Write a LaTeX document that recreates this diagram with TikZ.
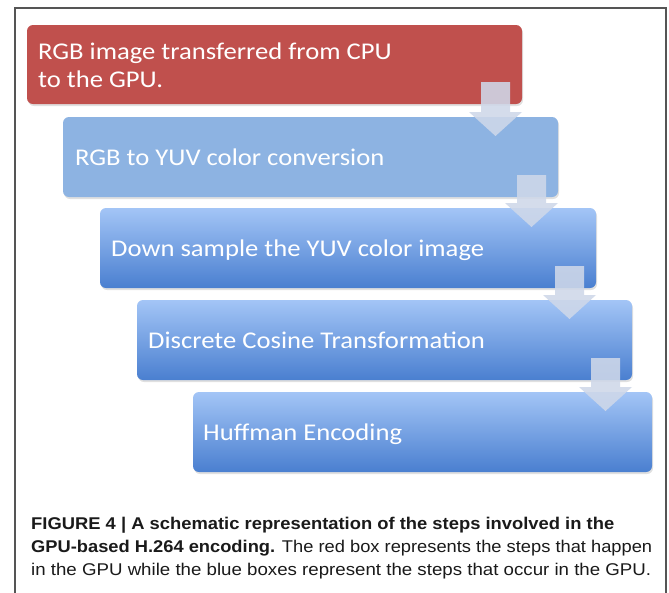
\documentclass[tikz,border=0pt]{standalone}
\usepackage{fontspec}
\setmainfont{Carlito}
\newfontfamily\capfont{Liberation Sans}
\usepackage{graphicx}
\usetikzlibrary{calc}
\definecolor{redbox}{HTML}{C0504D}
\definecolor{flatblue}{HTML}{8DB3E2}
\definecolor{gradtop}{HTML}{A3C5F6}
\definecolor{gradbot}{HTML}{4A7FD0}
\definecolor{arrowfill}{HTML}{CFD8E9}
\definecolor{framecol}{HTML}{555555}
\definecolor{captext}{HTML}{1A1A1A}
\newcommand{\boxtext}[1]{\scalebox{1.11}[1]{#1}}
\newcommand{\capline}[2]{\resizebox{#1}{\height}{#2}}
\newcommand{\blockarrow}[2]{%
  \fill[arrowfill,opacity=0.88] let \p1=(#1.south east), \p2=(#2.north) in
    (\x1-41pt,\y1+22pt) -- (\x1-12pt,\y1+22pt) -- (\x1-12pt,\y2+5pt) --
    (\x1,\y2+5pt) -- (\x1-26.5pt,\y2-19pt) -- (\x1-53pt,\y2+5pt) --
    (\x1-41pt,\y2+5pt) -- cycle;}
\begin{document}
\begin{tikzpicture}[x=1pt,y=-1pt,
  stepbox/.style={rounded corners=6pt,inner sep=0pt,outer sep=0pt,anchor=north west,minimum height=80pt},
  redstep/.style={stepbox,fill=redbox},
  flatstep/.style={stepbox,fill=flatblue},
  gradstep/.style={stepbox,top color=gradtop,bottom color=gradbot},
  shadowbox/.style={rounded corners=6pt,fill=black,opacity=0.12},
  steptext/.style={anchor=base west,inner sep=0pt,text=white,font=\fontsize{24}{28}\selectfont},
  captxt/.style={anchor=base west,inner sep=0pt,text=captext,font=\capfont\fontsize{17}{23}\selectfont}]
\useasboundingbox (0,0) rectangle (669,592);
\fill[white] (0,0) rectangle (669,592);
% frame
\draw[framecol,line width=1.6pt] (15,595) -- (15,8) -- (666,8) -- (666,595);
% shadows
\fill[shadowbox] (28,27) rectangle (523,106);
\fill[shadowbox] (64,119) rectangle (559,199);
\fill[shadowbox] (101,210) rectangle (597,290);
\fill[shadowbox] (138,302) rectangle (633,382);
\fill[shadowbox] (194,394) rectangle (653,474);
% boxes
\node[redstep,minimum width=495pt,minimum height=79pt] (b1) at (27,25) {};
\node[flatstep,minimum width=495pt] (b2) at (63,117) {};
\node[gradstep,minimum width=496pt] (b3) at (100,208) {};
\node[gradstep,minimum width=495pt] (b4) at (137,300) {};
\node[gradstep,minimum width=459pt] (b5) at (193,392) {};
% texts
\node[steptext] (t1a) at (38,59) {\boxtext{RGB image transferred from CPU}};
\node[steptext] (t1b) at (38,87) {\boxtext{to the GPU.}};
\node[steptext] (t2) at (75,165) {\boxtext{RGB to YUV color conversion}};
\node[steptext] (t3) at (111,256) {\boxtext{Down sample the YUV color image}};
\node[steptext] (t4) at (148,348) {\boxtext{Discrete Cosine Transformation}};
\node[steptext] (t5) at (203,440) {\boxtext{Huffman Encoding}};
% arrows
\blockarrow{b1}{b2}
\blockarrow{b2}{b3}
\blockarrow{b3}{b4}
\blockarrow{b4}{b5}
% caption
\node[captxt] (c1) at (31,529) {\capline{583pt}{\bfseries FIGURE 4 | A schematic representation of the steps involved in the}};
\node[captxt] (c2) at (31,552) {\capline{621pt}{\textbf{GPU-based H.264 encoding.} The red box represents the steps that happen}};
\node[captxt] (c3) at (31,575) {\capline{620pt}{in the GPU while the blue boxes represent the steps that occur in the GPU.}};
\end{tikzpicture}
\end{document}
